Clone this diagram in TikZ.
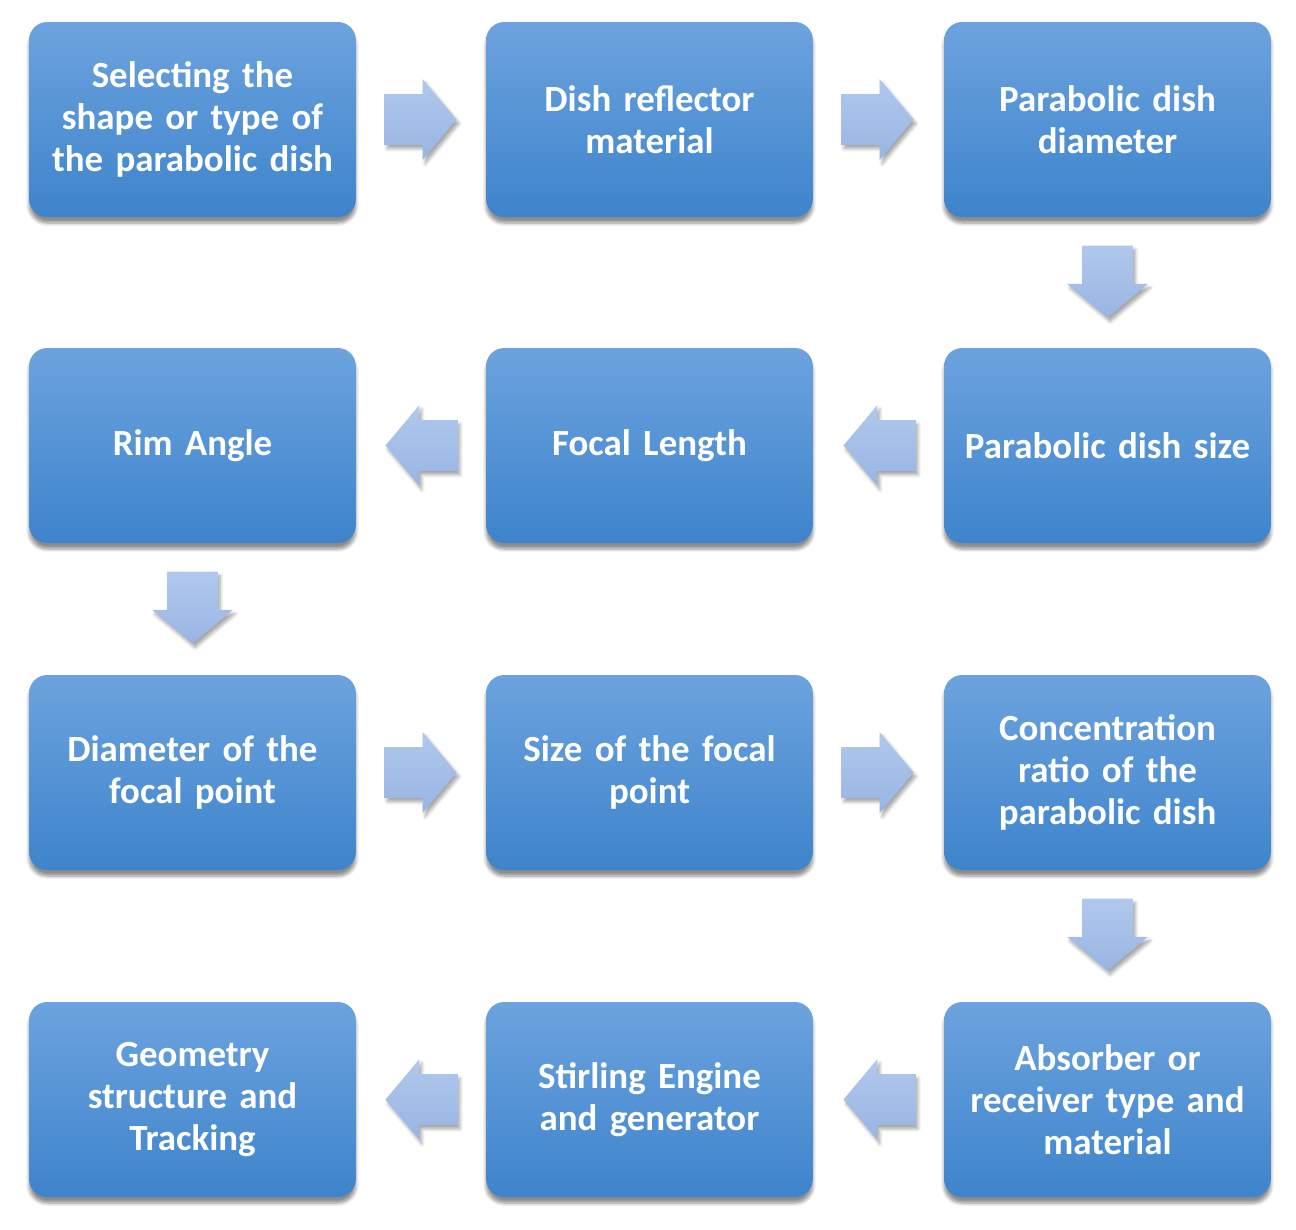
\documentclass[tikz,border=0pt]{standalone}
\usepackage{fontspec}
\setmainfont{Carlito}
\usetikzlibrary{calc,shapes.arrows,shadows.blur}

\definecolor{boxtop}{RGB}{108,163,222}
\definecolor{boxbot}{RGB}{62,132,204}
\definecolor{arrtop}{RGB}{176,200,237}
\definecolor{arrbot}{RGB}{152,181,226}

\begin{document}
\begin{tikzpicture}[
    box/.style={rectangle, rounded corners=0.36cm, minimum width=6.5cm, minimum height=3.9cm,
        top color=boxtop, bottom color=boxbot, text=white, align=center, text width=6.3cm,
        font=\fontsize{21}{24}\selectfont\bfseries,
        blur shadow={shadow xshift=0pt, shadow yshift=-0.12cm, shadow blur steps=6, shadow opacity=45}},
    flow/.style={single arrow, single arrow head extend=0.3cm, single arrow tip angle=100,
        minimum height=1.4cm, inner sep=0.5cm, anchor=tail,
        top color=arrtop, bottom color=arrbot,
        blur shadow={shadow xshift=0.05cm, shadow yshift=-0.08cm, shadow blur steps=5, shadow opacity=35}},
    flowleft/.style={flow, shape border rotate=180},
    flowdown/.style={flow, shape border rotate=270}
]
    \useasboundingbox (0, 0) rectangle (25.92, -24.58);

    % row 1
    \node[box] (shape) at (3.85, -2.39) {Selecting the\\shape or type of\\the parabolic dish};
    \node[box] (mat) at (12.99, -2.39) {Dish reflector\\material};
    \node[box] (diam) at (22.15, -2.39) {Parabolic dish\\diameter};

    % row 2
    \node[box] (rim) at (3.85, -8.91) {Rim Angle};
    \node[box] (focal) at (12.99, -8.91) {Focal Length};
    \node[box] (size) at (22.15, -8.91) {Parabolic dish size};

    % row 3
    \node[box] (dfoc) at (3.85, -15.45) {Diameter of the\\focal point};
    \node[box] (sfoc) at (12.99, -15.45) {Size of the focal\\point};
    \node[box] (conc) at (22.15, -15.45) {Concentration\\ratio of the\\parabolic dish};

    % row 4
    \node[box] (geom) at (3.85, -21.99) {Geometry\\structure and\\Tracking};
    \node[box] (stir) at (12.99, -21.99) {Stirling Engine\\and generator};
    \node[box] (abs) at (22.15, -21.99) {Absorber or\\receiver type and\\material};

    \node[flow] (shapemat) at ($(shape.east) + (0.56, 0)$) {};
    \node[flow] (matdiam) at ($(mat.east) + (0.56, 0)$) {};
    \node[flowdown] (diamsize) at ($(diam.south) + (0, -0.56)$) {};
    \node[flowleft] (sizefocal) at ($(size.west) + (-0.56, 0)$) {};
    \node[flowleft] (focalrim) at ($(focal.west) + (-0.56, 0)$) {};
    \node[flowdown] (rimdfoc) at ($(rim.south) + (0, -0.56)$) {};
    \node[flow] (dfocsfoc) at ($(dfoc.east) + (0.56, 0)$) {};
    \node[flow] (sfocconc) at ($(sfoc.east) + (0.56, 0)$) {};
    \node[flowdown] (concabs) at ($(conc.south) + (0, -0.56)$) {};
    \node[flowleft] (absstir) at ($(abs.west) + (-0.56, 0)$) {};
    \node[flowleft] (stirgeom) at ($(stir.west) + (-0.56, 0)$) {};
\end{tikzpicture}
\end{document}
